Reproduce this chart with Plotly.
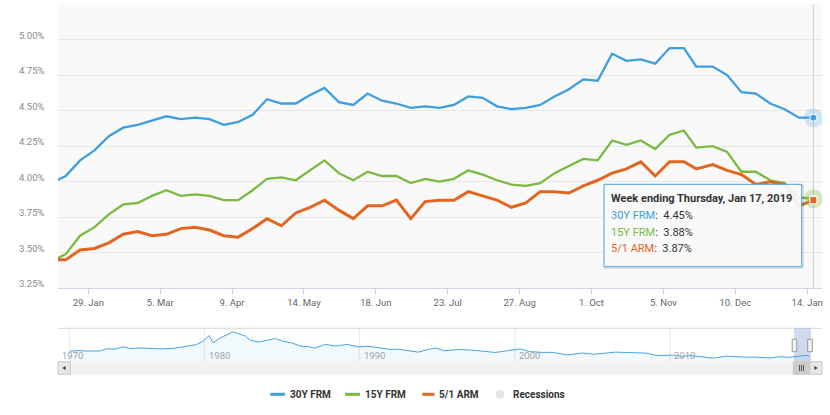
import plotly.graph_objects as go

# ---------------- data ----------------
dates = ["2018-01-11", "2018-01-18", "2018-01-25", "2018-02-01", "2018-02-08", "2018-02-15",
         "2018-02-22", "2018-03-01", "2018-03-08", "2018-03-15", "2018-03-22", "2018-03-29",
         "2018-04-05", "2018-04-12", "2018-04-19", "2018-04-26", "2018-05-03", "2018-05-10",
         "2018-05-17", "2018-05-24", "2018-05-31", "2018-06-07", "2018-06-14", "2018-06-21",
         "2018-06-28", "2018-07-05", "2018-07-12", "2018-07-19", "2018-07-26", "2018-08-02",
         "2018-08-09", "2018-08-16", "2018-08-23", "2018-08-30", "2018-09-06", "2018-09-13",
         "2018-09-20", "2018-09-27", "2018-10-04", "2018-10-11", "2018-10-18", "2018-10-25",
         "2018-11-01", "2018-11-08", "2018-11-15", "2018-11-21", "2018-11-29", "2018-12-06",
         "2018-12-13", "2018-12-20", "2018-12-27", "2019-01-03", "2019-01-10", "2019-01-17"]
frm30 = [3.99, 4.04, 4.15, 4.22, 4.32, 4.38, 4.40, 4.43, 4.46, 4.44, 4.45, 4.44,
         4.40, 4.42, 4.47, 4.58, 4.55, 4.55, 4.61, 4.66, 4.56, 4.54, 4.62, 4.57,
         4.55, 4.52, 4.53, 4.52, 4.54, 4.60, 4.59, 4.53, 4.51, 4.52, 4.54, 4.60,
         4.65, 4.72, 4.71, 4.90, 4.85, 4.86, 4.83, 4.94, 4.94, 4.81, 4.81, 4.75,
         4.63, 4.62, 4.55, 4.51, 4.45, 4.45]
frm15 = [3.44, 3.49, 3.62, 3.68, 3.77, 3.84, 3.85, 3.90, 3.94, 3.90, 3.91, 3.90,
         3.87, 3.87, 3.94, 4.02, 4.03, 4.01, 4.08, 4.15, 4.06, 4.01, 4.07, 4.04,
         4.04, 3.99, 4.02, 4.00, 4.02, 4.08, 4.05, 4.01, 3.98, 3.97, 3.99, 4.06,
         4.11, 4.16, 4.15, 4.29, 4.26, 4.29, 4.23, 4.33, 4.36, 4.24, 4.25, 4.21,
         4.07, 4.07, 4.01, 3.99, 3.89, 3.88]
arm51 = [3.45, 3.45, 3.52, 3.53, 3.57, 3.63, 3.65, 3.62, 3.63, 3.67, 3.68, 3.66,
         3.62, 3.61, 3.67, 3.74, 3.69, 3.78, 3.82, 3.87, 3.80, 3.74, 3.83, 3.83,
         3.87, 3.74, 3.86, 3.87, 3.87, 3.93, 3.90, 3.87, 3.82, 3.85, 3.93, 3.93,
         3.92, 3.97, 4.01, 4.06, 4.09, 4.14, 4.04, 4.14, 4.14, 4.09, 4.12, 4.08,
         4.05, 3.98, 4.00, 3.98, 3.83, 3.87]

tick_dates = ["2018-01-29", "2018-03-05", "2018-04-09", "2018-05-14", "2018-06-18",
              "2018-07-23", "2018-08-27", "2018-10-01", "2018-11-05", "2018-12-10", "2019-01-14"]
tick_labels = ["29. Jan", "5. Mar", "9. Apr", "14. May", "18. Jun", "23. Jul",
               "27. Aug", "1. Oct", "5. Nov", "10. Dec", "14. Jan"]
y_ticks = [3.25, 3.50, 3.75, 4.00, 4.25, 4.50, 4.75, 5.00, 5.25]
y_labels = ["3.25%", "3.50%", "3.75%", "4.00%", "4.25%", "4.50%", "4.75%", "5.00%", ""]

# navigator (long history of 30Y FRM)
nav_dates = ["1971-04-02", "1971-10-01", "1972-06-01", "1973-03-01", "1973-09-01", "1974-03-01",
             "1974-09-01", "1975-03-01", "1975-09-01", "1976-06-01", "1977-03-01", "1977-12-01",
             "1978-06-01", "1978-12-01", "1979-06-01", "1979-11-01", "1980-04-01", "1980-07-01",
             "1980-12-01", "1981-05-01", "1981-10-01", "1982-03-01", "1982-08-01", "1982-12-01",
             "1983-06-01", "1983-12-01", "1984-07-01", "1985-01-01", "1985-08-01", "1986-03-01",
             "1986-09-01", "1987-02-01", "1987-10-01", "1988-06-01", "1989-03-01", "1989-12-01",
             "1990-06-01", "1991-01-01", "1991-12-01", "1992-06-01", "1993-02-01", "1993-10-01",
             "1994-06-01", "1994-12-01", "1995-06-01", "1996-06-01", "1997-03-01", "1998-02-01",
             "1998-10-01", "1999-06-01", "2000-05-01", "2001-01-01", "2001-11-01", "2002-06-01",
             "2003-06-01", "2004-05-01", "2005-02-01", "2006-07-01", "2007-06-01", "2008-06-01",
             "2009-04-01", "2010-04-01", "2010-11-01", "2011-04-01", "2012-11-01", "2013-09-01",
             "2014-12-01", "2015-06-01", "2016-07-01", "2017-03-01", "2017-09-01", "2018-05-01",
             "2018-11-01", "2019-01-17"]
nav_rate = [7.33, 7.65, 7.40, 7.45, 8.80, 8.50, 9.90, 8.80, 9.20, 8.90, 8.70, 8.95,
            9.70, 10.40, 11.10, 12.90, 16.35, 12.20, 14.80, 16.50, 18.40, 17.40, 16.00, 13.60,
            12.60, 13.40, 14.60, 13.10, 12.10, 10.20, 10.00, 9.10, 11.30, 10.30, 11.20, 9.80,
            10.20, 9.60, 8.40, 8.50, 7.60, 6.80, 8.40, 9.20, 7.60, 8.30, 8.00, 7.00,
            6.60, 7.50, 8.60, 7.10, 6.60, 6.70, 5.20, 6.30, 5.60, 6.80, 6.70, 6.30,
            4.80, 5.10, 4.20, 4.90, 3.35, 4.50, 3.90, 4.00, 3.45, 4.20, 3.80, 4.60,
            4.94, 4.45]
nav_tick_labels = ["1970", "1980", "1990", "2000", "2010"]

C30, C15, CARM = "#3d9ee0", "#7cb940", "#e2661f"
FONT = "Roboto"

# ---------------- geometry helpers ----------------
W, H = 830, 415
ML, MR, MT, MB = 58, 8, 4, 41
PW, PH = W - ML - MR, H - MT - MB


def px(x):
    return (x - ML) / PW


def py(y):
    return (H - MB - y) / PH


fig = go.Figure()

# main series
for name, vals, col, wd in [("30Y FRM", frm30, C30, 2.3), ("15Y FRM", frm15, C15, 2.3),
                            ("5/1 ARM", arm51, CARM, 3.0)]:
    fig.add_trace(go.Scatter(x=dates, y=vals, name=name, mode="lines",
                             line=dict(color=col, width=wd), xaxis="x", yaxis="y",
                             hoverinfo="skip"))

# hover state markers on last point
fig.add_trace(go.Scatter(x=[dates[-1]], y=[frm30[-1]], mode="markers", xaxis="x", yaxis="y",
                         marker=dict(size=19, color="rgba(61,158,224,0.22)"), hoverinfo="skip"))
fig.add_trace(go.Scatter(x=[dates[-1]], y=[frm30[-1]], mode="markers", xaxis="x", yaxis="y",
                         marker=dict(size=7, color=C30, line=dict(color="white", width=1)),
                         hoverinfo="skip"))
fig.add_trace(go.Scatter(x=[dates[-1]], y=[frm15[-1]], mode="markers", xaxis="x", yaxis="y",
                         marker=dict(size=19, color="rgba(124,185,64,0.3)"), hoverinfo="skip"))
fig.add_trace(go.Scatter(x=[dates[-1]], y=[frm15[-1]], mode="markers", xaxis="x", yaxis="y",
                         marker=dict(size=7, color=C15, line=dict(color="white", width=1)),
                         hoverinfo="skip"))
fig.add_trace(go.Scatter(x=[dates[-1]], y=[arm51[-1]], mode="markers", xaxis="x", yaxis="y",
                         marker=dict(size=7, symbol="square", color=CARM,
                                     line=dict(color="white", width=1)), hoverinfo="skip"))

# navigator series
fig.add_trace(go.Scatter(x=nav_dates, y=nav_rate, mode="lines", xaxis="x2", yaxis="y2",
                         line=dict(color="#4aa3df", width=1), fill="tozeroy",
                         fillcolor="rgba(74,163,223,0.07)", hoverinfo="skip"))

shapes = []
# main plot background
shapes.append(dict(type="rect", xref="x domain", yref="y domain", x0=0, x1=1, y0=0, y1=1,
                   fillcolor="#f9f9f9", line=dict(width=0), layer="below"))
# crosshair
shapes.append(dict(type="line", xref="x", yref="y domain", x0=dates[-1], x1=dates[-1],
                   y0=0, y1=1, line=dict(color="#cccccc", width=1), layer="below"))

# navigator frame + grid
shapes.append(dict(type="line", xref="paper", yref="paper", x0=px(58), x1=px(822),
                   y0=py(328.3), y1=py(328.3), line=dict(color="#d9d9d9", width=1)))
nav_grid_px = [69.3, 204.3, 359.3, 515.0, 670.0]
for gx in nav_grid_px:
    shapes.append(dict(type="line", xref="paper", yref="paper", x0=px(gx), x1=px(gx),
                       y0=py(361.7), y1=py(328.3), line=dict(color="#e6e6e6", width=1),
                       layer="below"))
# selected range mask
shapes.append(dict(type="rect", xref="paper", yref="paper", x0=px(794), x1=px(811),
                   y0=py(361.7), y1=py(328.3), fillcolor="rgba(102,133,194,0.3)",
                   line=dict(width=0)))
# handles
for hx in (794.5, 810.0):
    shapes.append(dict(type="rect", xref="paper", yref="paper", x0=px(hx - 2.3), x1=px(hx + 2.3),
                       y0=py(351.7), y1=py(339.3), fillcolor="#f2f2f2",
                       line=dict(color="#999999", width=1)))
# scrollbar
shapes.append(dict(type="rect", xref="paper", yref="paper", x0=px(58), x1=px(822),
                   y0=py(374.3), y1=py(361.7), fillcolor="#f2f2f2", line=dict(color="#f2f2f2", width=1)))
shapes.append(dict(type="rect", xref="paper", yref="paper", x0=px(793.3), x1=px(810),
                   y0=py(374.3), y1=py(361.7), fillcolor="#cccccc", line=dict(color="#cccccc", width=1)))
for tx in (799.5, 801.5, 803.5):
    shapes.append(dict(type="line", xref="paper", yref="paper", x0=px(tx), x1=px(tx),
                       y0=py(371), y1=py(365), line=dict(color="#333333", width=0.8)))
for bx0, bx1 in ((58, 70.5), (810, 822)):
    shapes.append(dict(type="rect", xref="paper", yref="paper", x0=px(bx0), x1=px(bx1),
                       y0=py(374.3), y1=py(361.7), fillcolor="#e6e6e6",
                       line=dict(color="#cccccc", width=1)))
# arrows
la = "M {} {} L {} {} L {} {} Z".format(px(62.5), py(368), px(65.5), py(366), px(65.5), py(370))
ra = "M {} {} L {} {} L {} {} Z".format(px(817.5), py(368), px(814.5), py(366), px(814.5), py(370))
for pth in (la, ra):
    shapes.append(dict(type="path", xref="paper", yref="paper", path=pth,
                       fillcolor="#333333", line=dict(width=0)))

# tooltip box (shadow + box)
shapes.append(dict(type="rect", xref="paper", yref="paper", x0=px(605), x1=px(803),
                   y0=py(268), y1=py(185.5), fillcolor="rgba(0,0,0,0)",
                   line=dict(color="rgba(0,0,0,0.10)", width=2), layer="above"))
shapes.append(dict(type="rect", xref="paper", yref="paper", x0=px(604), x1=px(801.7),
                   y0=py(266.7), y1=py(184.3), fillcolor="rgba(248,248,248,0.92)",
                   line=dict(color="#4aa3df", width=1), layer="above"))

# legend symbols
leg_y = 394.3
for x0, x1, col in ((270.3, 285.0, C30), (345.0, 360.0, C15), (422.3, 434.5, CARM)):
    shapes.append(dict(type="line", xref="paper", yref="paper", x0=px(x0), x1=px(x1),
                       y0=py(leg_y), y1=py(leg_y), line=dict(color=col, width=3)))
shapes.append(dict(type="circle", xref="paper", yref="paper", x0=px(495.5), x1=px(504.5),
                   y0=py(leg_y + 4.5), y1=py(leg_y - 4.5), fillcolor="#e6e6e6",
                   line=dict(width=0)))

annotations = []
# y-axis labels (sit a little above their grid line)
for v, lbl in zip(y_ticks, y_labels):
    if lbl:
        annotations.append(dict(xref="paper", yref="y", x=px(45.5), y=v, yshift=4.5,
                                text=lbl, showarrow=False, xanchor="right", yanchor="middle",
                                borderpad=0,
                                font=dict(family=FONT, size=9.5, color="#8a8a8a")))
# navigator labels
for lbl, lx in zip(nav_tick_labels, [61.0, 207.5, 362.5, 518.0, 673.3]):
    annotations.append(dict(xref="paper", yref="paper", x=px(lx), y=py(355.5), text=lbl,
                            showarrow=False, xanchor="left", yanchor="middle", borderpad=0,
                            font=dict(family=FONT, size=9.5, color="#a0a0a0")))
# tooltip text
annotations.append(dict(xref="paper", yref="paper", x=px(610), y=py(198.5),
                        text="<b>Week ending Thursday, Jan 17, 2019</b>", showarrow=False,
                        xanchor="left", yanchor="middle", borderpad=0,
                        font=dict(family=FONT, size=11, color="#333333")))
for i, (name, vals, col) in enumerate([("30Y FRM", frm30, C30), ("15Y FRM", frm15, C15),
                                       ("5/1 ARM", arm51, CARM)]):
    annotations.append(dict(xref="paper", yref="paper", x=px(610), y=py(215.7 + 16.6 * i),
                            text='<span style="color:{}">{}</span>:  {:.2f}%'.format(col, name, vals[-1]),
                            showarrow=False, xanchor="left", yanchor="middle", borderpad=0,
                            font=dict(family=FONT, size=11, color="#333333")))
# legend text
for lbl, lx in (("30Y FRM", 289.0), ("15Y FRM", 364.0), ("5/1 ARM", 438.3), ("Recessions", 511.7)):
    annotations.append(dict(xref="paper", yref="paper", x=px(lx), y=py(leg_y),
                            text="<b>{}</b>".format(lbl), showarrow=False,
                            xanchor="left", yanchor="middle", borderpad=0,
                            font=dict(family=FONT, size=10, color="#333333")))

fig.update_layout(
    width=W, height=H,
    margin=dict(l=ML, r=MR, t=MT, b=MB, pad=0, autoexpand=False),
    paper_bgcolor="white", plot_bgcolor="white",
    showlegend=False,
    font=dict(family=FONT),
    xaxis=dict(domain=[0, 1], anchor="y", type="date", automargin=False,
               range=["2018-01-14 06:00", "2019-01-21 05:00"],
               tickmode="array", tickvals=tick_dates, ticktext=tick_labels,
               ticks="outside", ticklen=5, tickcolor="#ccd6eb", tickwidth=1,
               showline=True, linecolor="#ccd6eb", linewidth=1,
               showgrid=False, zeroline=False,
               tickfont=dict(family=FONT, size=9.5, color="#666666")),
    yaxis=dict(domain=[py(288.3), 1], anchor="x", range=[3.25, 5.25], automargin=False,
               tickmode="array", tickvals=y_ticks,
               showgrid=True, gridcolor="#e6e6e6", gridwidth=1, zeroline=False,
               showline=False, ticks="", showticklabels=False),
    xaxis2=dict(domain=[0, 1], anchor="y2", type="date", automargin=False,
                range=["1970-06-23", "2019-11-08"],
                showticklabels=False, showgrid=False, zeroline=False, showline=False, ticks=""),
    yaxis2=dict(domain=[py(361.7), py(328.3)], anchor="x2", range=[1.3, 20.5], automargin=False,
                showticklabels=False, showgrid=False, zeroline=False, showline=False, ticks=""),
    shapes=shapes,
    annotations=annotations,
)

fig.write_html("out.html", config={"displayModeBar": False},
               post_script="document.body.style.margin='0';")
